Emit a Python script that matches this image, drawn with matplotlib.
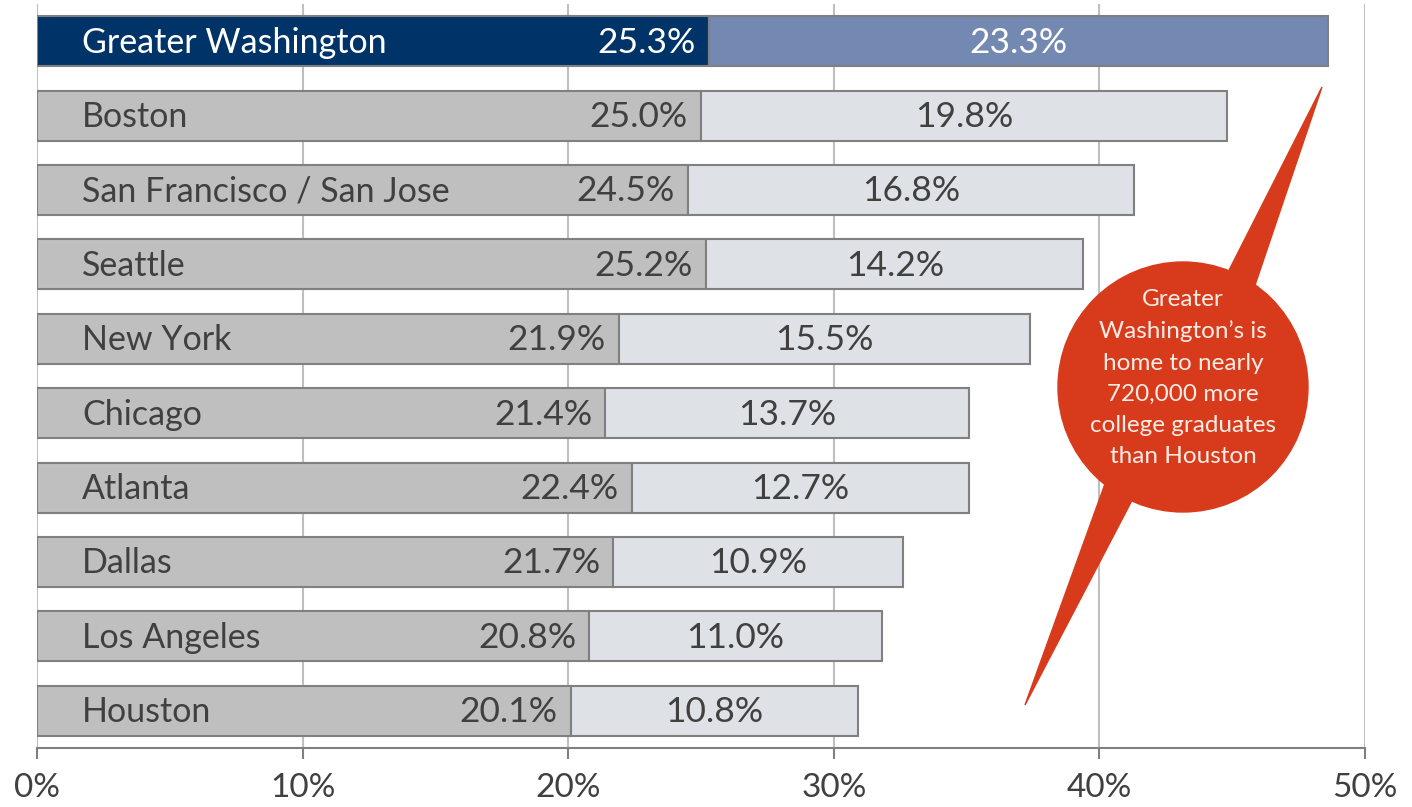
import matplotlib
matplotlib.use("Agg")
import matplotlib.pyplot as plt
from matplotlib.patches import Circle, Polygon

# data
cities = ["Greater Washington", "Boston", "San Francisco / San Jose", "Seattle",
          "New York", "Chicago", "Atlanta", "Dallas", "Los Angeles", "Houston"]
bachelors = [25.3, 25.0, 24.5, 25.2, 21.9, 21.4, 22.4, 21.7, 20.8, 20.1]
graduate = [23.3, 19.8, 16.8, 14.2, 15.5, 13.7, 12.7, 10.9, 11.0, 10.8]
xticks = [0, 10, 20, 30, 40, 50]
callout = "Greater\nWashington’s is\nhome to nearly\n720,000 more\ncollege graduates\nthan Houston"

plt.rcParams["font.family"] = ["Lato", "DejaVu Sans"]
text_col = "#404040"
edge_col = "#808080"

fig = plt.figure(figsize=(14.12, 8.07), dpi=100)
ax = fig.add_axes([37 / 1412, 59 / 807, 1328 / 1412, 744 / 807])

y = list(range(len(cities)))
c1 = ["#003468"] + ["#BFBFBF"] * (len(cities) - 1)
c2 = ["#7489B2"] + ["#DEE2E6"] * (len(cities) - 1)
ax.barh(y, bachelors, height=0.67, color=c1, edgecolor=edge_col, linewidth=1.5, zorder=3)
ax.barh(y, graduate, left=bachelors, height=0.67, color=c2, edgecolor=edge_col,
        linewidth=1.5, zorder=3)

for i, (name, b, g) in enumerate(zip(cities, bachelors, graduate)):
    tc = "white" if i == 0 else text_col
    ax.text(1.7, i + 0.02, name, ha="left", va="center", fontsize=24.5, color=tc, zorder=4)
    ax.text(b - 0.5, i + 0.02, f"{b:.1f}%", ha="right", va="center", fontsize=25.5,
            color=tc, zorder=4)
    ax.text(b + g / 2, i + 0.02, f"{g:.1f}%", ha="center", va="center", fontsize=25.5,
            color=tc, zorder=4)

ax.set_xlim(0, 50)
ax.set_ylim(len(cities) - 0.5, -0.5)
ax.set_xticks(xticks)
ax.set_xticklabels([f"{t}%" for t in xticks], fontsize=24, color=text_col)
ax.set_yticks([])
ax.grid(axis="x", color="#BFBFBF", linewidth=1.5, zorder=0)
for s in ["top", "right", "left"]:
    ax.spines[s].set_visible(False)
ax.spines["bottom"].set_color(edge_col)
ax.spines["bottom"].set_linewidth(1.5)
ax.tick_params(axis="x", length=8, width=1.5, color=edge_col, pad=10)

# speech bubble overlay (pixel coords)
ov = fig.add_axes([0, 0, 1, 1], zorder=5)
ov.set_xlim(0, 1412)
ov.set_ylim(807, 0)
ov.axis("off")
red = "#D83B1C"
ov.add_patch(Circle((1183, 387), 125, color=red))
ov.add_patch(Polygon([(1219, 290), (1250, 300), (1322, 87)], color=red))
ov.add_patch(Polygon([(1110, 470), (1140, 485), (1025, 705)], color=red))
ov.text(1183, 378, callout, ha="center", va="center", fontsize=17.5, color="#FBECE6",
        linespacing=1.6)

fig.savefig("out.png", dpi=100)
